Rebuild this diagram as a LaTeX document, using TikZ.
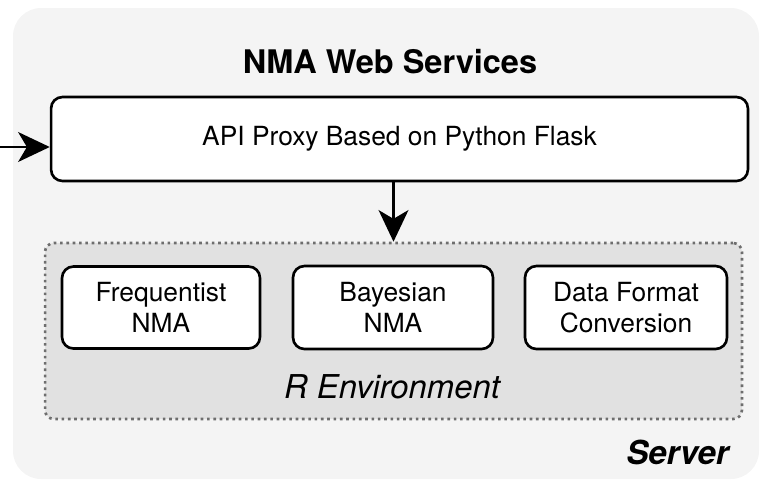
\documentclass[tikz,border=0pt]{standalone}
\usepackage{fontspec}
\setmainfont{TeX Gyre Heros}
\usetikzlibrary{arrows.meta}
\definecolor{servergray}{HTML}{F4F4F4}
\definecolor{envgray}{HTML}{E1E1E1}
\definecolor{dotgray}{HTML}{6E6E6E}
\begin{document}
\begin{tikzpicture}[x=0.02cm, y=-0.02cm,
    box/.style={draw, line width=1.5pt, rounded corners=6.5pt, fill=white,
      align=center, inner sep=0pt, font=\fontsize{15}{17.6}\selectfont},
    arr/.style={line width=1.2pt, -{Stealth[length=18pt,width=17pt,inset=5pt]}}]
  \useasboundingbox (0,0) rectangle (761,481);
    %%server
    \fill[servergray, rounded corners=16pt] (13,8) rectangle (759,479);
    \node[font=\bfseries\fontsize{18.5}{22}\selectfont] (title) at (390,62) {NMA Web Services};
    \node[box, minimum width=13.94cm, minimum height=1.68cm] (api) at (399.5,139) {API Proxy Based on Python Flask};
    %%R environment
    \node[draw=dotgray, fill=envgray, line width=1.5pt, dash pattern=on 1.5pt off 2.1pt,
      rounded corners=5pt, minimum width=13.94cm, minimum height=3.52cm] (renv) at (393.5,331) {};
      \node[box, minimum width=3.96cm, minimum height=1.64cm] (freq) at (161,307.5) {Frequentist\\NMA};
      \node[box, minimum width=4cm, minimum height=1.66cm] (bayes) at (393,307.5) {Bayesian\\NMA};
      \node[box, minimum width=4.04cm, minimum height=1.66cm] (conv) at (626,307.5) {Data Format\\Conversion};
    \node[font=\itshape\fontsize{18.7}{22}\selectfont] (rlabel) at (392,387) {R Environment};
    \node[font=\bfseries\itshape\fontsize{18.8}{22}\selectfont, anchor=east] (slabel) at (735,452) {Server};
    %%arrows
    \coordinate (in) at (0,147);
    \draw[arr] (in) -- (in -| api.west);
    \draw[arr] (renv.north |- api.south) -- (renv.north);
\end{tikzpicture}
\end{document}
